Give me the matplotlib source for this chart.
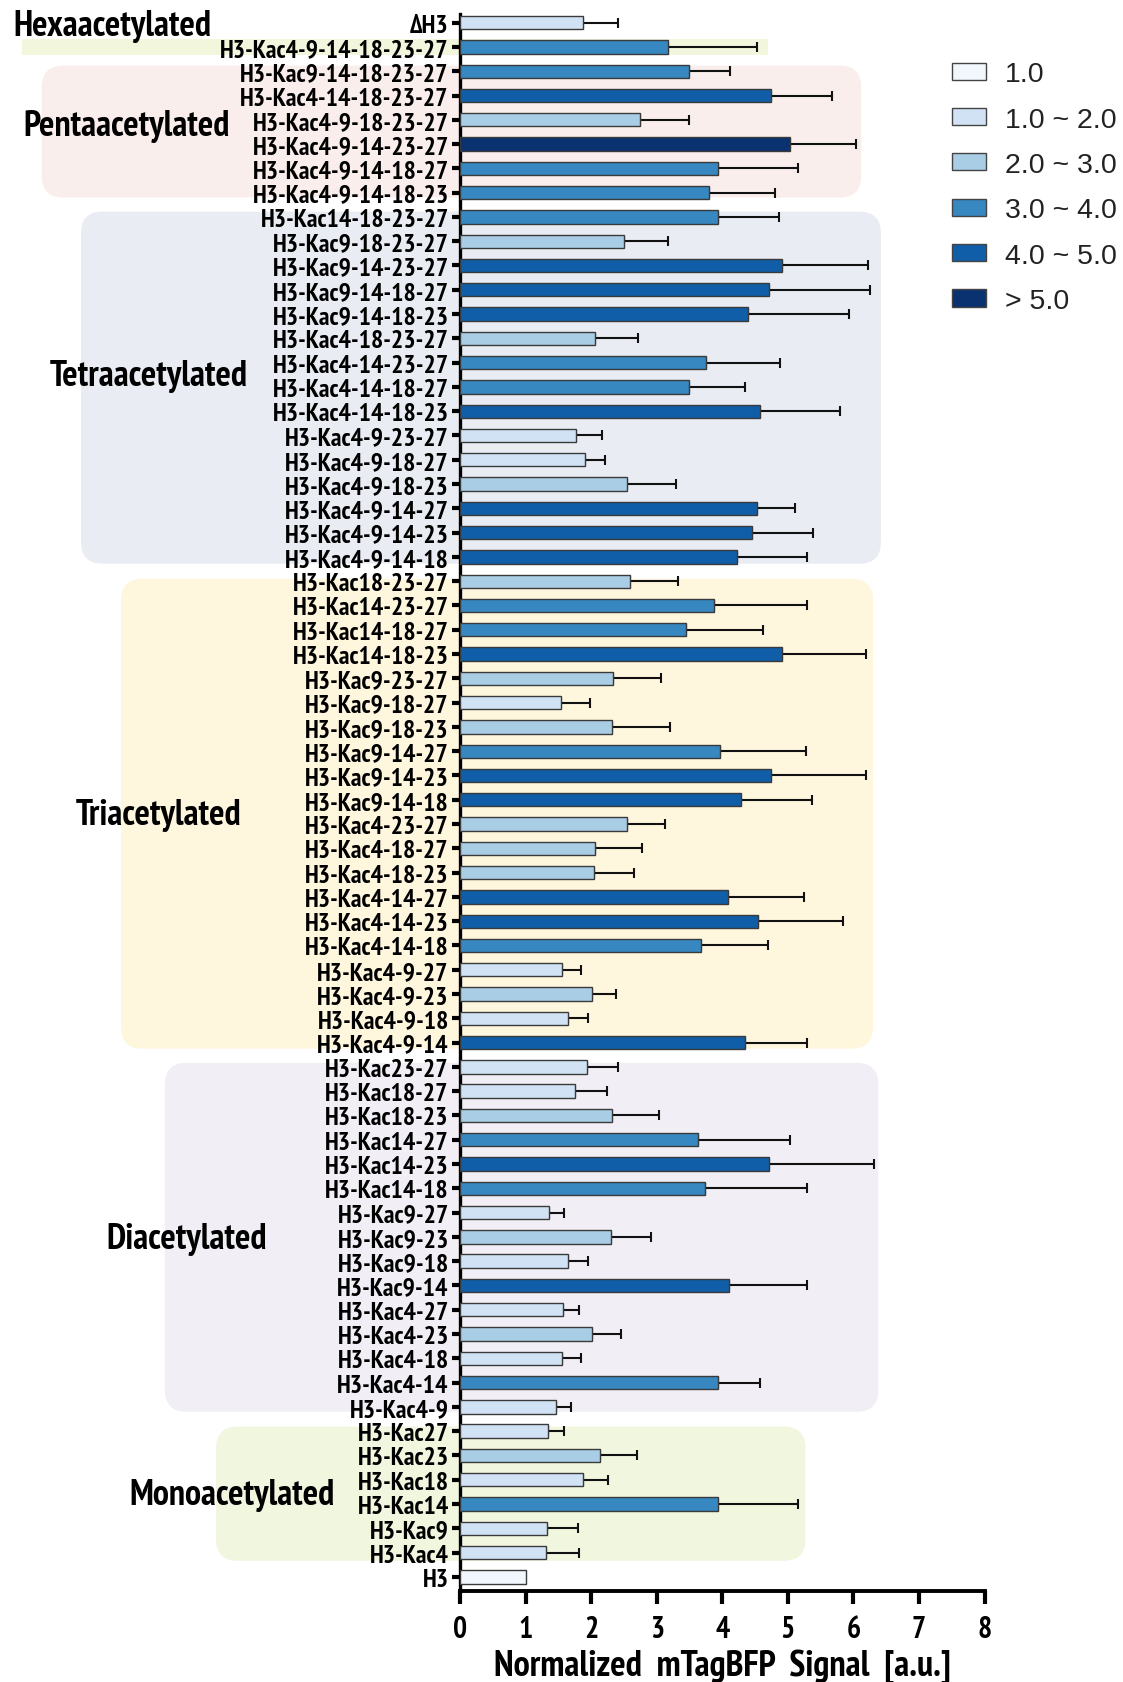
import matplotlib
matplotlib.use("Agg")
import matplotlib.pyplot as plt
from matplotlib import font_manager as fm
from matplotlib.patches import FancyBboxPatch, Patch, Rectangle
import numpy as np

# ---- data (top to bottom) ----
hexa_labels = ["ΔH3", "H3-Kac4-9-14-18-23-27"]
hexa_means = [1.87, 3.17]
hexa_errs = [0.54, 1.36]

penta_labels = ["H3-Kac9-14-18-23-27", "H3-Kac4-14-18-23-27", "H3-Kac4-9-18-23-27",
                "H3-Kac4-9-14-23-27", "H3-Kac4-9-14-18-27", "H3-Kac4-9-14-18-23"]
penta_means = [3.50, 4.75, 2.75, 5.04, 3.93, 3.80]
penta_errs = [0.62, 0.93, 0.75, 1.00, 1.23, 1.01]

tetra_labels = ["H3-Kac14-18-23-27", "H3-Kac9-18-23-27", "H3-Kac9-14-23-27", "H3-Kac9-14-18-27",
                "H3-Kac9-14-18-23", "H3-Kac4-18-23-27", "H3-Kac4-14-23-27", "H3-Kac4-14-18-27",
                "H3-Kac4-14-18-23", "H3-Kac4-9-23-27", "H3-Kac4-9-18-27", "H3-Kac4-9-18-23",
                "H3-Kac4-9-14-27", "H3-Kac4-9-14-23", "H3-Kac4-9-14-18"]
tetra_means = [3.93, 2.50, 4.91, 4.71, 4.40, 2.06, 3.75, 3.49, 4.58, 1.77, 1.90, 2.55, 4.53, 4.45, 4.22]
tetra_errs = [0.93, 0.67, 1.31, 1.54, 1.54, 0.66, 1.13, 0.86, 1.21, 0.39, 0.31, 0.74, 0.58, 0.93, 1.08]

tri_labels = ["H3-Kac18-23-27", "H3-Kac14-23-27", "H3-Kac14-18-27", "H3-Kac14-18-23",
              "H3-Kac9-23-27", "H3-Kac9-18-27", "H3-Kac9-18-23", "H3-Kac9-14-27",
              "H3-Kac9-14-23", "H3-Kac9-14-18", "H3-Kac4-23-27", "H3-Kac4-18-27",
              "H3-Kac4-18-23", "H3-Kac4-14-27", "H3-Kac4-14-23", "H3-Kac4-14-18",
              "H3-Kac4-9-27", "H3-Kac4-9-23", "H3-Kac4-9-18", "H3-Kac4-9-14"]
tri_means = [2.59, 3.88, 3.44, 4.91, 2.34, 1.54, 2.32, 3.97, 4.75, 4.29,
             2.55, 2.06, 2.05, 4.08, 4.55, 3.67, 1.55, 2.02, 1.64, 4.34]
tri_errs = [0.73, 1.41, 1.18, 1.28, 0.72, 0.44, 0.89, 1.30, 1.44, 1.08,
            0.58, 0.71, 0.60, 1.17, 1.29, 1.03, 0.30, 0.36, 0.31, 0.96]

di_labels = ["H3-Kac23-27", "H3-Kac18-27", "H3-Kac18-23", "H3-Kac14-27", "H3-Kac14-23",
             "H3-Kac14-18", "H3-Kac9-27", "H3-Kac9-23", "H3-Kac9-18", "H3-Kac9-14",
             "H3-Kac4-27", "H3-Kac4-23", "H3-Kac4-18", "H3-Kac4-14", "H3-Kac4-9"]
di_means = [1.93, 1.75, 2.32, 3.63, 4.71, 3.73, 1.36, 2.31, 1.64, 4.11, 1.57, 2.02, 1.55, 3.94, 1.46]
di_errs = [0.48, 0.49, 0.71, 1.41, 1.61, 1.56, 0.23, 0.60, 0.32, 1.19, 0.25, 0.44, 0.30, 0.64, 0.24]

mono_labels = ["H3-Kac27", "H3-Kac23", "H3-Kac18", "H3-Kac14", "H3-Kac9", "H3-Kac4"]
mono_means = [1.34, 2.14, 1.88, 3.94, 1.33, 1.31]
mono_errs = [0.25, 0.56, 0.38, 1.22, 0.47, 0.51]

ref_labels = ["H3"]
ref_means = [1.0]
ref_errs = [0.0]

legend_labels = ["1.0", "1.0 ~ 2.0", "2.0 ~ 3.0", "3.0 ~ 4.0", "4.0 ~ 5.0", "> 5.0"]
bin_colors = ["#f2f7fd", "#d0e2f3", "#a9cde4", "#3787c1", "#105ea8", "#0a3170"]

group_names = ["Hexaacetylated", "Pentaacetylated", "Tetraacetylated",
               "Triacetylated", "Diacetylated", "Monoacetylated"]

labels = (hexa_labels + penta_labels + tetra_labels + tri_labels
          + di_labels + mono_labels + ref_labels)
means = np.array(hexa_means + penta_means + tetra_means + tri_means
                 + di_means + mono_means + ref_means)
errs = np.array(hexa_errs + penta_errs + tetra_errs + tri_errs
                + di_errs + mono_errs + ref_errs)
n = len(labels)
ypos = np.arange(n)[::-1]  # first label at top


def bin_color(v):
    if v <= 1.0:
        return bin_colors[0]
    return bin_colors[min(int(np.floor(v)), 5)]


colors = [bin_color(v) for v in means]


# ---- fonts: a condensed bold face for the labels ----
def pick_condensed():
    bold = {}
    for f in fm.fontManager.ttflist:
        w = f.weight if isinstance(f.weight, int) else 400
        if w >= 700 and "[" not in f.fname:
            bold.setdefault(f.name, f.fname)
    prefs = ["Liberation Sans Narrow", "Arial Narrow", "Archivo Narrow", "PT Sans Narrow",
             "Roboto Condensed", "IBM Plex Sans Condensed", "Fira Sans Condensed",
             "Asap Condensed", "Encode Sans Condensed", "Pragati Narrow"]
    for p in prefs:
        if p in bold:
            return p
    return "Liberation Sans"


COND = [pick_condensed(), "DejaVu Sans"]
REG = ["Liberation Sans", "DejaVu Sans"]

fig = plt.figure(figsize=(11.23, 16.83), dpi=100)
renderer = fig.canvas.get_renderer()


def fit_size(s, width_px, family, weight="bold", base=20.0):
    t = fig.text(0, 0, s, family=family, fontweight=weight, fontsize=base)
    w = t.get_window_extent(renderer).width
    t.remove()
    return base * width_px / w


tick_fs = fit_size("H3-Kac4-9-14-18-23-27", 228, COND)
group_fs = fit_size("Pentaacetylated", 206, COND)
xlabel_fs = fit_size("Normalized  mTagBFP  Signal  [a.u.]", 458, COND)
xtick_fs = tick_fs * 1.15

ax = fig.add_axes([0.4096, 0.0541, 0.4671, 0.9369])
ax.patch.set_visible(False)

# group background panels: (x0, x1, y0, y1, color, rounded)
pos = {lab: y for lab, y in zip(labels, ypos)}
panels = [
    (-6.68, 4.70, pos[hexa_labels[1]] - 0.33, pos[hexa_labels[1]] + 0.33, "#f1f6dd", False),
    (-6.38, 6.12, pos[penta_labels[-1]] - 0.20, pos[penta_labels[0]] + 0.23, "#f9eeec", True),
    (-5.78, 6.42, pos[tetra_labels[-1]] - 0.28, pos[tetra_labels[0]] + 0.22, "#e9edf3", True),
    (-5.17, 6.30, pos[tri_labels[-1]] - 0.25, pos[tri_labels[0]] + 0.10, "#fff6de", True),
    (-4.50, 6.38, pos[di_labels[-1]] - 0.20, pos[di_labels[0]] + 0.17, "#f1eff5", True),
    (-3.72, 5.27, pos[mono_labels[-1]] - 0.34, pos[mono_labels[0]] + 0.19, "#f1f6df", True),
]
aspect = 65.6 / 24.29
for x0, x1, y0, y1, c, rounded in panels:
    if rounded:
        p = FancyBboxPatch((x0, y0), x1 - x0, y1 - y0,
                           boxstyle="round,pad=0,rounding_size=0.33",
                           mutation_aspect=aspect, facecolor=c, edgecolor="none",
                           transform=ax.transData, clip_on=False, zorder=0)
    else:
        p = Rectangle((x0, y0), x1 - x0, y1 - y0, facecolor=c, edgecolor="none",
                      transform=ax.transData, clip_on=False, zorder=0)
    ax.add_patch(p)

ax.barh(ypos, means, height=0.55, color=colors, edgecolor="#3a3a3a",
        linewidth=1.0, zorder=3)
has_err = errs > 0
ax.errorbar(means[has_err], ypos[has_err],
            xerr=[np.zeros(has_err.sum()), errs[has_err]],
            fmt="none", ecolor="#111111", elinewidth=1.5, capsize=3.5,
            capthick=1.5, zorder=2)

ax.set_xlim(0, 8)
ax.set_ylim(-0.58, n - 1 + 0.35)
ax.set_yticks(ypos)
ax.set_yticklabels(labels, family=COND, fontweight="bold", fontsize=tick_fs)
ax.set_xticks(np.arange(0, 9))
ax.set_xticklabels([str(i) for i in range(9)], family=COND,
                   fontweight="bold", fontsize=xtick_fs)
ax.tick_params(axis="y", length=6, width=3, pad=2)
ax.tick_params(axis="x", length=9, width=3, pad=8)
for s in ["top", "right"]:
    ax.spines[s].set_visible(False)
ax.spines["left"].set_linewidth(2.4)
ax.spines["bottom"].set_linewidth(2.8)
ax.spines["bottom"].set_capstyle("projecting")

ax.set_xlabel("Normalized  mTagBFP  Signal  [a.u.]", family=COND,
              fontweight="bold", fontsize=xlabel_fs)
ax.xaxis.set_label_coords(0.5, -0.0475)
ax.xaxis.label.set_va("center")

# group names
gpos = [(-6.81, pos[hexa_labels[0]] - 0.12, "left"),
        (-5.09, 59.76, "center"),
        (-4.75, 49.46, "center"),
        (-4.60, 31.38, "center"),
        (-4.17, 13.92, "center"),
        (-3.47, 3.40, "center")]
for name, (gx, gy, ha) in zip(group_names, gpos):
    ax.text(gx, gy, name, ha=ha, va="center", family=COND, fontweight="bold",
            fontsize=group_fs, clip_on=False, zorder=4)

handles = [Patch(facecolor=c, edgecolor="#444444", linewidth=1.0) for c in bin_colors]
fig.legend(handles, legend_labels, loc="upper left", bbox_to_anchor=(0.848, 0.963),
           frameon=False, prop={"family": REG, "size": 20.5},
           handlelength=1.2, handleheight=0.55, handletextpad=0.66,
           labelspacing=0.68, borderpad=0, borderaxespad=0, labelcolor="#222222")

fig.savefig("out.png", dpi=100)
